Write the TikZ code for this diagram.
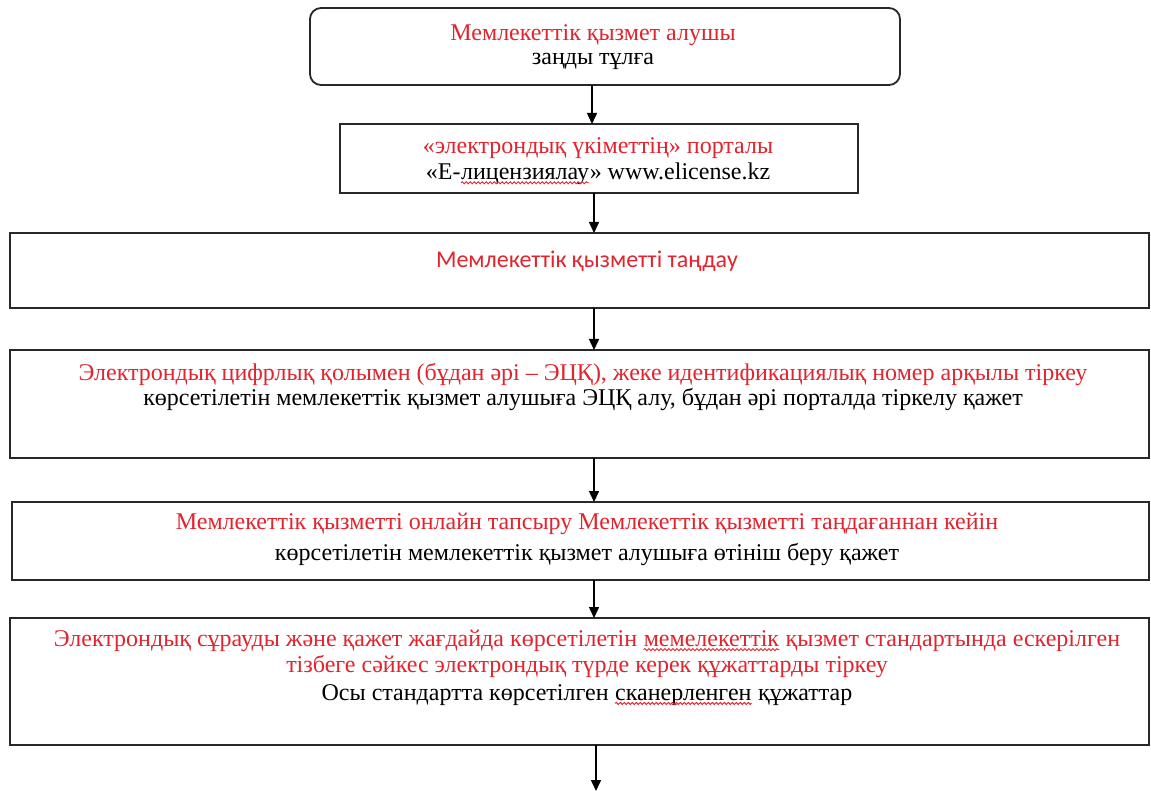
\documentclass[tikz,border=0pt]{standalone}
\usepackage{fontspec}
\setmainfont{Liberation Serif}
\newfontfamily\calibrifont{Carlito}
\usetikzlibrary{arrows.meta,decorations.pathmorphing}
\definecolor{hdred}{RGB}{225,36,46}
\definecolor{frame}{RGB}{40,40,40}
% word with a wavy red underline
\newcommand{\sq}[2]{\tikz[baseline=(sqw.base)]{\node[inner sep=0pt, text=#1] (sqw) {#2};
  \draw[hdred, line width=0.9pt, decorate, decoration={snake, amplitude=1pt, segment length=4pt}]
    ([yshift=-3pt]sqw.base west) -- ([yshift=-3pt]sqw.base east);}}
\tikzset{
  box/.style={draw=frame, line width=1.8pt, fill=white},
  roundbox/.style={box, rounded corners=11pt},
  txt/.style={align=center, inner sep=0pt, font=\fontsize{24}{26}\selectfont},
  head/.style={txt, text=hdred},
  body/.style={txt, text=black},
  flow/.style={draw=black, line width=1.5pt, -{Triangle[length=11pt,width=10pt]}}
}
\begin{document}
\begin{tikzpicture}[x=1pt,y=-1pt]
\useasboundingbox (0,0) rectangle (1151,791);
\fill[white] (0,0) rectangle (1151,791);

% step boxes
\path[roundbox] (310,8) rectangle (900,85);
\path[box] (340,124) rectangle (858,193);
\path[box] (10,233) rectangle (1149,308);
\path[box] (10,350) rectangle (1149,458);
\path[box] (12,502) rectangle (1149,580);
\path[box] (10,618) rectangle (1149,745);

% anchor points for the connectors
\coordinate (b1) at (592,85);  \coordinate (t2) at (592,124);
\coordinate (b2) at (594,193); \coordinate (t3) at (594,233);
\coordinate (b3) at (594,308); \coordinate (t4) at (594,350);
\coordinate (b4) at (594,458); \coordinate (t5) at (594,502);
\coordinate (b5) at (594,580); \coordinate (t6) at (594,618);
\coordinate (b6) at (596,745); \coordinate (end) at (596,791);

\draw[flow] (b1) -- (t2);
\draw[flow] (b2) -- (t3);
\draw[flow] (b3) -- (t4);
\draw[flow] (b4) -- (t5);
\draw[flow] (b5) -- (t6);
\draw[flow] (b6) -- (end);

% texts
\node[head] (h1) at (593,35) {Мемлекеттік қызмет алушы};
\node[body] (s1) at (593,61) {заңды тұлға};

\node[head] (h2) at (598,148) {«электрондық үкіметтің» порталы};
\node[body] (s2) at (598,174) {«Е-\sq{black}{лицензиялау}» www.elicense.kz};

\node[head, font=\calibrifont\fontsize{24}{26}\selectfont] (h3) at (587,261) {Мемлекеттік қызметті таңдау};

\node[head] (h4) at (583,375) {Электрондық цифрлық қолымен (бұдан әрі – ЭЦҚ), жеке идентификациялық номер арқылы тіркеу};
\node[body] (s4) at (583,400) {көрсетілетін мемлекеттік қызмет алушыға ЭЦҚ алу, бұдан әрі порталда тіркелу қажет};

\node[head] (h5) at (587,524) {Мемлекеттік қызметті онлайн тапсыру Мемлекеттік қызметті таңдағаннан кейін};
\node[body] (s5) at (587,554) {көрсетілетін мемлекеттік қызмет алушыға өтініш беру қажет};

\node[head] (h6) at (587,641) {Электрондық сұрауды және қажет жағдайда көрсетілетін \sq{hdred}{мемелекеттік} қызмет стандартында ескерілген};
\node[head] (h6b) at (587,666) {тізбеге сәйкес электрондық түрде керек құжаттарды тіркеу};
\node[body] (s6) at (587,695) {Осы стандартта көрсетілген \sq{black}{сканерленген} құжаттар};
\end{tikzpicture}
\end{document}
